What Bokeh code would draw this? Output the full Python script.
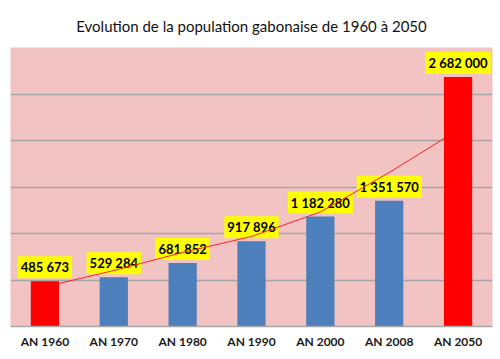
from bokeh.plotting import figure
from bokeh.models import Range1d, FixedTicker, ColumnDataSource
from bokeh.core.properties import value
from bokeh.embed import file_html
from bokeh.resources import INLINE

title_text = "Evolution de la population gabonaise de 1960 à 2050"
categories = ["AN 1960", "AN 1970", "AN 1980", "AN 1990", "AN 2000", "AN 2008", "AN 2050"]
population = [485673, 529284, 681852, 917896, 1182280, 1351570, 2682000]
labels = ["485 673", "529 284", "681 852", "917 896", "1 182 280", "1 351 570", "2 682 000"]
bar_colors = ["#FF0000", "#4D7FBC", "#4D7FBC", "#4D7FBC", "#4D7FBC", "#4D7FBC", "#FF0000"]
trend = [427000, 602000, 796000, 968000, 1231000, 1656000, 2114000]
grid_ticks = [500000, 1000000, 1500000, 2000000, 2500000, 3000000]

src = ColumnDataSource(dict(cat=categories, pop=population, lab=labels, col=bar_colors, trend=trend))

p = figure(x_range=categories, y_range=Range1d(0, 3000000), width=500, height=359,
           output_backend="svg", toolbar_location=None,
           min_border_left=10, min_border_right=8, min_border_top=47, min_border_bottom=33)

p.title.text = title_text
p.title.align = "center"
p.title.text_font = "Lato"
p.title.text_font_size = "15px"
p.title.text_font_style = "normal"
p.title.text_color = "#111111"
p.title.standoff = 26

p.background_fill_color = "#F1C3C3"
p.border_fill_color = "white"
p.outline_line_color = None

p.yaxis.visible = False
p.ygrid.ticker = FixedTicker(ticks=grid_ticks)
p.ygrid.grid_line_color = "#A6A6A6"
p.ygrid.grid_line_width = 1.5
p.xgrid.grid_line_color = None

p.xaxis.axis_line_color = "#A6A6A6"
p.xaxis.axis_line_width = 1.5
p.xaxis.major_tick_line_color = None
p.xaxis.minor_tick_line_color = None
p.xaxis.major_label_text_font = "Lato"
p.xaxis.major_label_text_font_style = "bold"
p.xaxis.major_label_text_font_size = "12px"
p.xaxis.major_label_text_color = "#1A1A1A"
p.xaxis.major_label_standoff = 1

# value labels (drawn first so the trend line crosses over them)
p.text(x="cat", y="pop", text="lab", source=src,
       text_font=value("Lato"), text_font_style="bold", text_font_size="13px",
       text_color="black", text_align="center", text_baseline="bottom",
       y_offset=-3, background_fill_color="#FFFF00", padding=3)

p.line(x="cat", y="trend", source=src, line_color="#FF2020", line_width=1)

p.vbar(x="cat", top="pop", width=0.41, source=src, fill_color="col", line_color=None)

open("out.html", "w").write(file_html(p, INLINE))
